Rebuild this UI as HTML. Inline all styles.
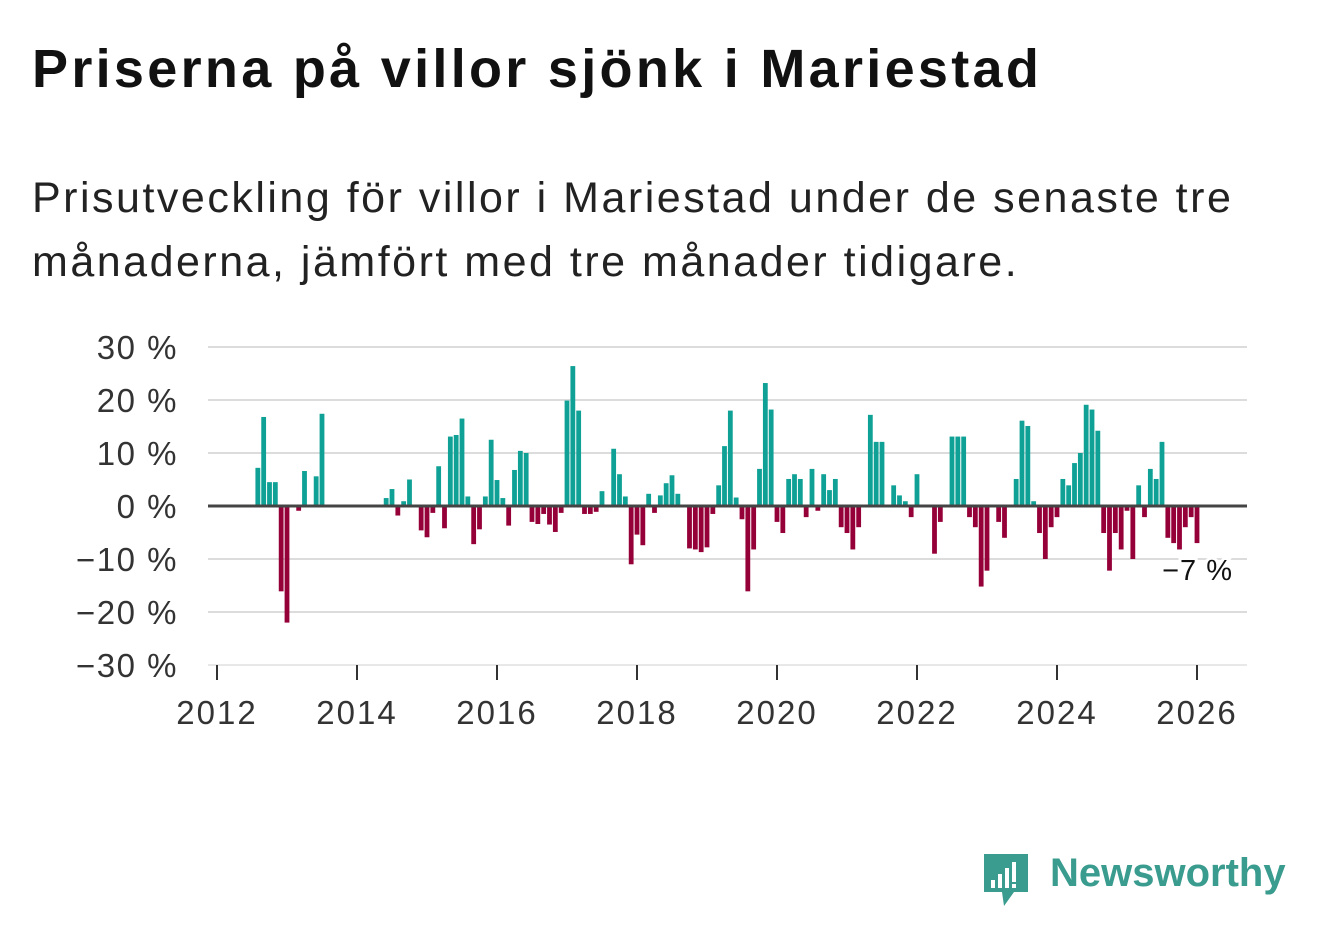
<!DOCTYPE html>
<html><head><meta charset="utf-8"><style>
body{margin:0;background:#fff;width:1322px;height:939px;overflow:hidden;font-family:"Liberation Sans",sans-serif;}
h1{position:absolute;left:32px;top:38px;margin:0;font-size:54px;font-weight:bold;color:#111;letter-spacing:3.3px}
.sub{position:absolute;left:32px;top:166px;margin:0;font-size:43px;line-height:64px;color:#222;width:1250px;letter-spacing:2.5px}
</style></head><body>
<h1>Priserna på villor sjönk i Mariestad</h1>
<p class="sub">Prisutveckling för villor i Mariestad under de senaste tre månaderna, jämfört med tre månader tidigare.</p>
<svg id="chart" width="1322" height="939" style="position:absolute;left:0;top:0"></svg>
<div style="position:absolute;left:982px;top:850px;width:320px;height:60px">
<svg width="50" height="60" style="position:absolute;left:0;top:2px"><path d="M2 2h44v38h-14l-10 14-2-14H2z" fill="#3a9b8f"/><rect x="9" y="28" width="4" height="8" fill="#fff"/><rect x="16" y="22" width="4" height="14" fill="#fff"/><rect x="23" y="16" width="4" height="20" fill="#fff"/><rect x="30" y="10" width="4" height="20" fill="#fff"/><rect x="30" y="32" width="4" height="4" fill="#fff"/></svg>
<span style="position:absolute;left:68px;top:1px;font-size:40px;font-weight:bold;color:#3a9b8f">Newsworthy</span></div>
<script>
const startYear = 2012;
const yTicks = [30,20,10,0,-10,-20,-30];
const xTickYears = [2012,2014,2016,2018,2020,2022,2024,2026];
const monthIndex = [7,8,9,10,11,12,14,15,17,18,29,30,31,32,33,35,36,37,38,39,40,41,42,43,44,45,46,47,48,49,50,51,52,53,54,55,56,57,58,59,60,61,62,63,64,65,66,68,69,70,71,72,73,74,75,76,77,78,79,81,82,83,84,85,86,87,88,89,90,91,92,93,94,95,96,97,98,99,100,101,102,103,104,105,106,107,108,109,110,112,113,114,116,117,118,119,120,123,124,126,127,128,129,130,131,132,134,135,137,138,139,140,141,142,143,144,145,146,147,148,149,150,151,152,153,154,155,156,157,158,159,160,161,162,163,164,165,166,167,168];
const values = [7.2,16.8,4.5,4.5,-16.1,-22,-0.9,6.6,5.6,17.4,1.5,3.2,-1.8,0.9,5,-4.6,-5.9,-1.3,7.5,-4.2,13.1,13.4,16.5,1.8,-7.2,-4.4,1.8,12.5,4.9,1.5,-3.7,6.8,10.4,10,-3,-3.4,-1.5,-3.5,-4.9,-1.3,19.9,26.4,18,-1.5,-1.5,-1.1,2.8,10.8,6,1.8,-11,-5.4,-7.4,2.3,-1.3,2,4.3,5.8,2.3,-8,-8.2,-8.7,-7.8,-1.5,3.9,11.3,18,1.6,-2.5,-16.1,-8.2,7,23.2,18.2,-3,-5.1,5.1,6,5.1,-2.1,7,-0.9,6,3,5.1,-4,-5.1,-8.2,-4,17.2,12.1,12.1,3.9,2,0.9,-2.1,6,-9,-3,13.1,13.1,13.1,-2.1,-4,-15.2,-12.2,-3,-6,5.1,16.1,15.1,0.9,-5.1,-10,-4,-2.1,5.1,3.9,8.1,10,19.1,18.2,14.2,-5.1,-12.2,-5.1,-8.2,-0.9,-10,3.9,-2.1,7,5.1,12.1,-6,-7,-8.2,-4,-2.1,-7];
const lastLabel = "−7 %";

const svg = document.getElementById('chart');
const NS = 'http://www.w3.org/2000/svg';
const x0 = 217, pxPerMonth = 70/12;
const yZero = 506, pxPerPct = 5.3;
const xScale = m => x0 + m*pxPerMonth;
const yScale = v => yZero - v*pxPerPct;
function mk(tag, attrs){const e=document.createElementNS(NS,tag);for(const k in attrs)e.setAttribute(k,attrs[k]);svg.appendChild(e);return e;}

yTicks.forEach(t=>{
  if(t!==0){
    const g=mk('line',{x1:208,x2:1247,y1:yScale(t),y2:yScale(t),stroke:t===-30?'#e8e8e8':'#dcdcdc','stroke-width':2});
    
    
  }
  const tx=mk('text',{x:178,y:yScale(t)+12,'text-anchor':'end','font-size':33,'letter-spacing':1.5,fill:'#333','font-family':'Liberation Sans, sans-serif'});
  tx.textContent=(t<0?'−'+(-t):t)+' %';
  
  
});
values.forEach((v,i)=>{
  const x=xScale(monthIndex[i]);
  const r=mk('rect',{x:x-2.4,width:4.8,y:Math.min(yScale(v),yZero),height:Math.abs(v*pxPerPct),fill:v>=0?'#0fa195':'#960039'});
  
  
});
const zl=mk('line',{x1:208,x2:1247,y1:yZero,y2:yZero,stroke:'#444','stroke-width':3});


xTickYears.forEach(yr=>{
  const x=xScale((yr-startYear)*12);
  const tk=mk('line',{x1:x,x2:x,y1:665,y2:680,stroke:'#333','stroke-width':2});
  
  
  const tx=mk('text',{x:x,y:724,'text-anchor':'middle','font-size':33,'letter-spacing':2,fill:'#333','font-family':'Liberation Sans, sans-serif'});
  tx.textContent=yr;
  
  
});
const li=values.length-1;
const lab=mk('text',{x:xScale(monthIndex[li])+36,y:yScale(values[li])+37,'text-anchor':'end','font-size':29,'letter-spacing':1,fill:'#111','font-family':'Liberation Sans, sans-serif',stroke:'#fff','stroke-width':6,'paint-order':'stroke'});
lab.textContent=lastLabel;


</script>
</body></html>
